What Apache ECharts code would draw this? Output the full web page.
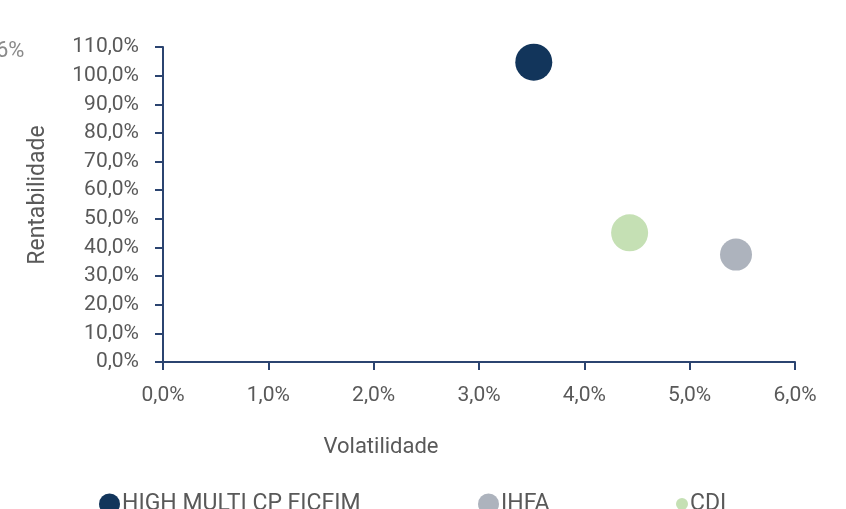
<!DOCTYPE html>
<html>
<head>
<meta charset="utf-8">
<script src="https://cdn.jsdelivr.net/npm/echarts@6/dist/echarts.min.js"></script>
<style>html,body{margin:0;padding:0;background:#fff;}#c{width:846px;height:509px;}</style>
</head>
<body>
<div id="c"></div>
<script>
const seriesNames = ['HIGH MULTI CP FICFIM', 'IHFA', 'CDI'];
const volatility = [3.52, 5.44, 4.43];   // %
const returns = [104.7, 37.5, 45.1];     // %
const colors = ['#12355B', '#ADB3BD', '#C5E0B4'];
const xTicks = [0, 6, 1];   // min, max, interval
const yTicks = [0, 110, 10];

const fmt = v => v.toFixed(1).replace('.', ',') + '%';
const font = 'Roboto, "DejaVu Sans", sans-serif';
const axisColor = '#2B4470';
const textColor = '#595959';

const chart = echarts.init(document.getElementById('c'), null, {renderer: 'canvas'});
const symSizes = [37, 32, 37];
const legendIcon = [[99, 21], [478, 21], [676, 12]];

chart.setOption({
  animation: false,
  grid: {left: 163, right: 51, top: 47, bottom: 147},
  xAxis: {
    type: 'value', min: xTicks[0], max: xTicks[1], interval: xTicks[2],
    name: 'Volatilidade', nameLocation: 'middle', nameGap: 74,
    nameTextStyle: {fontFamily: font, fontSize: 22, color: textColor, padding: [0, 196, 0, 0]},
    axisLine: {show: true, lineStyle: {color: axisColor, width: 2}},
    axisTick: {show: true, length: 8, lineStyle: {color: axisColor, width: 2}},
    axisLabel: {formatter: fmt, fontFamily: font, fontSize: 21, color: textColor, margin: 23},
    splitLine: {show: false}
  },
  yAxis: {
    type: 'value', min: yTicks[0], max: yTicks[1], interval: yTicks[2],
    name: 'Rentabilidade', nameLocation: 'middle', nameGap: 113, nameRotate: 90,
    nameTextStyle: {fontFamily: font, fontSize: 23, color: textColor, padding: [0, 0, 0, 19]},
    axisLine: {show: true, lineStyle: {color: axisColor, width: 2}},
    axisTick: {show: true, length: 8, lineStyle: {color: axisColor, width: 2}},
    axisLabel: {formatter: fmt, fontFamily: font, fontSize: 21, color: textColor, margin: 24},
    splitLine: {show: false}
  },
  legend: seriesNames.map((n, i) => ({
    data: [n], left: legendIcon[i][0], top: 503 - 10.5, padding: 0,
    icon: 'circle', itemWidth: legendIcon[i][1], itemHeight: legendIcon[i][1],
    textStyle: {fontFamily: font, fontSize: 23, color: textColor, padding: [10, 0, 0, -3]}
  })),
  graphic: [{
    type: 'text', left: -4, top: 40,
    style: {text: '6%', font: '22px ' + font, fill: '#8a8a8a'}
  }],
  series: seriesNames.map((n, i) => ({
    name: n, type: 'scatter', symbolSize: symSizes[i],
    itemStyle: {color: colors[i], opacity: 1},
    data: [[volatility[i], returns[i]]]
  }))
});
</script>
</body>
</html>
